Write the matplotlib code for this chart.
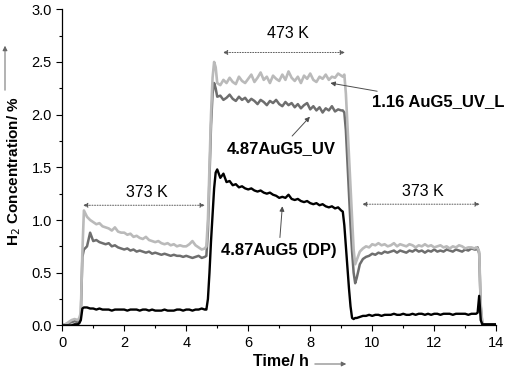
import numpy as np
import matplotlib
matplotlib.use('Agg')
import matplotlib.pyplot as plt
from matplotlib.ticker import MultipleLocator, FormatStrFormatter

plt.rcParams['font.family'] = ['Liberation Sans', 'DejaVu Sans']

# time grid (h), split into the run segments
t_start = [0.0, 0.1, 0.2, 0.3, 0.4, 0.5, 0.55, 0.6, 0.65, 0.7]
t_373a = [round(0.8 + 0.1 * i, 2) for i in range(39)]          # 0.8 .. 4.6
t_up = [4.65, 4.7, 4.75, 4.8, 4.85, 4.9, 4.95]
t_473 = [round(5.0 + 0.1 * i, 2) for i in range(41)]           # 5.0 .. 9.0
t_down = [9.05, 9.1, 9.15, 9.2, 9.25, 9.3, 9.35, 9.4, 9.45]
t_373b = [round(9.5 + 0.1 * i, 2) for i in range(39)]          # 9.5 .. 13.3
t_end = [13.35, 13.4, 13.45, 13.5, 13.55, 13.6, 13.8, 14.0]

# 1.16 AuG5_UV_L (light grey)
uvl_start = [0.0, 0.01, 0.03, 0.05, 0.06, 0.05, 0.07, 0.12, 0.70, 1.09]
uvl_373a = [1.03, 1.00, 0.98, 0.96, 0.97, 0.94, 0.93, 0.92, 0.90, 0.93,
            0.89, 0.88, 0.88, 0.86, 0.87, 0.84, 0.85, 0.83, 0.82, 0.84,
            0.81, 0.80, 0.79, 0.80, 0.78, 0.77, 0.78, 0.76, 0.77, 0.75,
            0.76, 0.75, 0.75, 0.77, 0.80, 0.76, 0.74, 0.72, 0.73]
uvl_up = [0.75, 1.0, 1.5, 2.0, 2.35, 2.50, 2.45]
uvl_473 = [2.30, 2.28, 2.33, 2.30, 2.35, 2.31, 2.29, 2.36, 2.32, 2.30,
           2.34, 2.38, 2.31, 2.35, 2.40, 2.33, 2.36, 2.30, 2.37, 2.34,
           2.32, 2.38, 2.33, 2.41, 2.35, 2.32, 2.36, 2.30, 2.37, 2.34,
           2.39, 2.33, 2.31, 2.36, 2.34, 2.38, 2.33, 2.36, 2.35, 2.39, 2.37]
uvl_down = [2.36, 2.38, 2.20, 1.90, 1.60, 1.30, 1.00, 0.72, 0.58]
uvl_373b = [0.62, 0.70, 0.73, 0.75, 0.74, 0.77, 0.76, 0.78, 0.76, 0.77,
            0.75, 0.76, 0.78, 0.75, 0.77, 0.76, 0.75, 0.77, 0.76, 0.74,
            0.76, 0.75, 0.77, 0.75, 0.76, 0.74, 0.75, 0.76, 0.74, 0.75,
            0.73, 0.75, 0.74, 0.76, 0.75, 0.73, 0.74, 0.74, 0.73]
uvl_end = [0.74, 0.73, 0.70, 0.20, 0.02, 0.01, 0.01, 0.01]

# 4.87AuG5_UV (dark grey)
uv_start = [0.0, 0.01, 0.02, 0.03, 0.04, 0.03, 0.05, 0.10, 0.65, 0.72]
uv_373a = [0.75, 0.88, 0.80, 0.81, 0.79, 0.78, 0.77, 0.78, 0.75, 0.76,
           0.74, 0.73, 0.72, 0.73, 0.71, 0.72, 0.70, 0.71, 0.70, 0.69,
           0.70, 0.68, 0.69, 0.68, 0.67, 0.68, 0.67, 0.66, 0.67, 0.66,
           0.66, 0.65, 0.66, 0.65, 0.64, 0.65, 0.66, 0.64, 0.65]
uv_up = [0.66, 0.9, 1.4, 1.9, 2.20, 2.30, 2.25]
uv_473 = [2.17, 2.18, 2.14, 2.16, 2.19, 2.15, 2.13, 2.17, 2.14, 2.16,
          2.12, 2.15, 2.13, 2.10, 2.14, 2.12, 2.09, 2.13, 2.11, 2.14,
          2.10, 2.08, 2.12, 2.09, 2.11, 2.07, 2.10, 2.06, 2.09, 2.11,
          2.05, 2.08, 2.04, 2.07, 2.02, 2.06, 2.04, 2.08, 2.03, 2.05, 2.04]
uv_down = [2.04, 2.02, 1.85, 1.55, 1.25, 0.95, 0.70, 0.50, 0.40]
uv_373b = [0.45, 0.58, 0.63, 0.65, 0.66, 0.68, 0.67, 0.69, 0.68, 0.70,
           0.69, 0.70, 0.71, 0.69, 0.71, 0.70, 0.69, 0.71, 0.70, 0.72,
           0.70, 0.71, 0.69, 0.71, 0.70, 0.72, 0.70, 0.71, 0.70, 0.72,
           0.71, 0.70, 0.72, 0.71, 0.70, 0.72, 0.71, 0.73, 0.72]
uv_end = [0.72, 0.74, 0.68, 0.18, 0.02, 0.01, 0.01, 0.01]

# 4.87AuG5 (DP) (black)
dp_start = [0.0, 0.0, 0.0, 0.0, 0.01, 0.01, 0.02, 0.05, 0.16, 0.17]
dp_373a = [0.17, 0.16, 0.16, 0.15, 0.16, 0.15, 0.15, 0.15, 0.14, 0.15,
           0.15, 0.15, 0.15, 0.14, 0.15, 0.15, 0.15, 0.14, 0.15, 0.15,
           0.14, 0.15, 0.14, 0.14, 0.14, 0.15, 0.14, 0.14, 0.14, 0.15,
           0.15, 0.14, 0.15, 0.15, 0.14, 0.15, 0.15, 0.16, 0.15]
dp_up = [0.15, 0.25, 0.50, 0.80, 1.05, 1.30, 1.45]
dp_473 = [1.48, 1.40, 1.44, 1.36, 1.37, 1.33, 1.34, 1.31, 1.32, 1.30,
          1.29, 1.30, 1.28, 1.27, 1.28, 1.26, 1.25, 1.26, 1.24, 1.23,
          1.21, 1.22, 1.21, 1.24, 1.20, 1.19, 1.20, 1.18, 1.17, 1.18,
          1.16, 1.15, 1.16, 1.14, 1.15, 1.13, 1.12, 1.13, 1.11, 1.12, 1.09]
dp_down = [1.08, 0.95, 0.75, 0.55, 0.35, 0.18, 0.07, 0.06, 0.07]
dp_373b = [0.07, 0.08, 0.09, 0.09, 0.10, 0.09, 0.10, 0.10, 0.09, 0.10,
           0.10, 0.10, 0.11, 0.10, 0.10, 0.11, 0.10, 0.10, 0.11, 0.10,
           0.11, 0.11, 0.10, 0.11, 0.10, 0.11, 0.11, 0.10, 0.11, 0.11,
           0.11, 0.10, 0.11, 0.11, 0.11, 0.11, 0.10, 0.11, 0.11]
dp_end = [0.11, 0.12, 0.28, 0.05, 0.01, 0.01, 0.01, 0.01]

time = np.concatenate([t_start, t_373a, t_up, t_473, t_down, t_373b, t_end])
uvl = np.concatenate([uvl_start, uvl_373a, uvl_up, uvl_473, uvl_down, uvl_373b, uvl_end])
uv = np.concatenate([uv_start, uv_373a, uv_up, uv_473, uv_down, uv_373b, uv_end])
dp = np.concatenate([dp_start, dp_373a, dp_up, dp_473, dp_down, dp_373b, dp_end])

fig = plt.figure(figsize=(5.1, 3.71), dpi=100)
ax = fig.add_axes([0.122, 0.123, 0.851, 0.852])

ax.plot(time, uv, color='#6e6e6e', lw=1.8)
ax.plot(time, uvl, color='#bababa', lw=1.9)
ax.plot(time, dp, color='black', lw=1.7)

ax.set_xlim(0, 14)
ax.set_ylim(0, 3.0)
ax.xaxis.set_major_locator(MultipleLocator(2))
ax.xaxis.set_minor_locator(MultipleLocator(1))
ax.yaxis.set_major_locator(MultipleLocator(0.5))
ax.yaxis.set_minor_locator(MultipleLocator(0.25))
ax.yaxis.set_major_formatter(FormatStrFormatter('%.1f'))
ax.tick_params(which='major', direction='out', length=4, width=0.8, labelsize=10.5)
ax.tick_params(which='minor', direction='out', length=2.5, width=0.8)
for s in ['top', 'right']:
    ax.spines[s].set_visible(False)
for s in ['left', 'bottom']:
    ax.spines[s].set_linewidth(0.9)

# temperature ranges
ranges = [(0.67, 4.6, 1.14, '373 K', 2.73, 1.26),
          (5.18, 9.12, 2.59, '473 K', 7.28, 2.77),
          (9.67, 13.47, 1.15, '373 K', 11.64, 1.27)]
for x0, x1, y, lab, tx, ty in ranges:
    ax.annotate('', xy=(x0, y), xytext=(x1, y),
                arrowprops=dict(arrowstyle='<|-|>', color='0.35', lw=0.7,
                                ls=':', mutation_scale=7, shrinkA=0, shrinkB=0))
    ax.text(tx, ty, lab, ha='center', va='center', fontsize=11.5)

# series labels
arw = dict(arrowstyle='-|>', color='0.3', lw=0.7, mutation_scale=7, shrinkA=2, shrinkB=0)
ax.annotate('1.16 AuG5_UV_L', xy=(8.65, 2.30), xytext=(10.0, 2.12),
            fontsize=12, fontweight='bold', ha='left', va='center', arrowprops=arw)
ax.annotate('4.87AuG5_UV', xy=(7.99, 1.98), xytext=(7.05, 1.68),
            fontsize=12, fontweight='bold', ha='center', va='center', arrowprops=arw)
ax.annotate('4.87AuG5 (DP)', xy=(7.1, 1.13), xytext=(6.99, 0.71),
            fontsize=12, fontweight='bold', ha='center', va='center', arrowprops=arw)

# axis labels with direction arrows
fig.text(281 / 510, 1 - 362 / 371, 'Time/ h', ha='center', va='center',
         fontsize=11.5, fontweight='bold')
fig.add_artist(matplotlib.patches.FancyArrowPatch(
    (312 / 510, 1 - 364 / 371), (349 / 510, 1 - 364 / 371), transform=fig.transFigure,
    arrowstyle='-|>', color='0.4', lw=0.7, mutation_scale=7))
fig.text(14 / 510, 1 - 171 / 371, 'H$_2$ Concentration/ %', ha='center', va='center',
         rotation=90, fontsize=11, fontweight='bold')
fig.add_artist(matplotlib.patches.FancyArrowPatch(
    (5 / 510, 1 - 93 / 371), (5 / 510, 1 - 43 / 371), transform=fig.transFigure,
    arrowstyle='-|>', color='0.4', lw=0.7, mutation_scale=7))

fig.savefig('out.png', dpi=100)
